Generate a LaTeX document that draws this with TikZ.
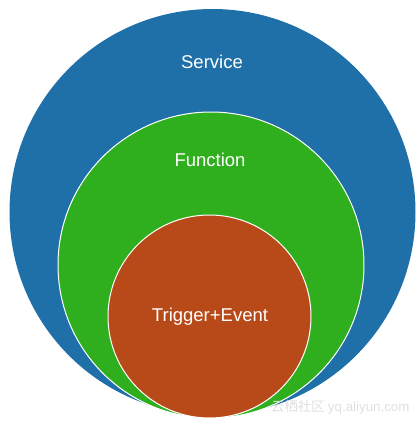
\documentclass[tikz,border=0pt]{standalone}
\usepackage{fontspec}
\setmainfont{Liberation Sans}
\newfontfamily\cjkfont{Noto Sans CJK SC}
\definecolor{servblue}{RGB}{31,111,168}
\definecolor{funcgreen}{RGB}{48,175,30}
\definecolor{trigred}{RGB}{184,74,25}
\tikzset{lbl/.style={text=white,font=\fontsize{18.5}{22}\selectfont}}

\begin{document}
\begin{tikzpicture}[x=1pt,y=-1pt]
    \useasboundingbox (0,0) rectangle (420,424);

    \fill[servblue] (212.5,212) circle (203);
    \draw[white, fill=funcgreen, line width=1pt] (211,265) circle (153);
    \draw[white, fill=trigred, line width=1pt] (209.5,316.5) circle (101.5);

    \node[lbl] (service) at (212,62) {Service};
    \node[lbl] (function) at (210,160) {Function};
    \node[lbl] (trigger) at (210,317) {Trigger+Event};

    \node[text=black!12, font=\fontsize{13.3}{16}\selectfont, anchor=west, inner sep=0pt] (mark) at (271,407) {{\cjkfont 云栖社区} yq.aliyun.com};

\end{tikzpicture}
\end{document}
